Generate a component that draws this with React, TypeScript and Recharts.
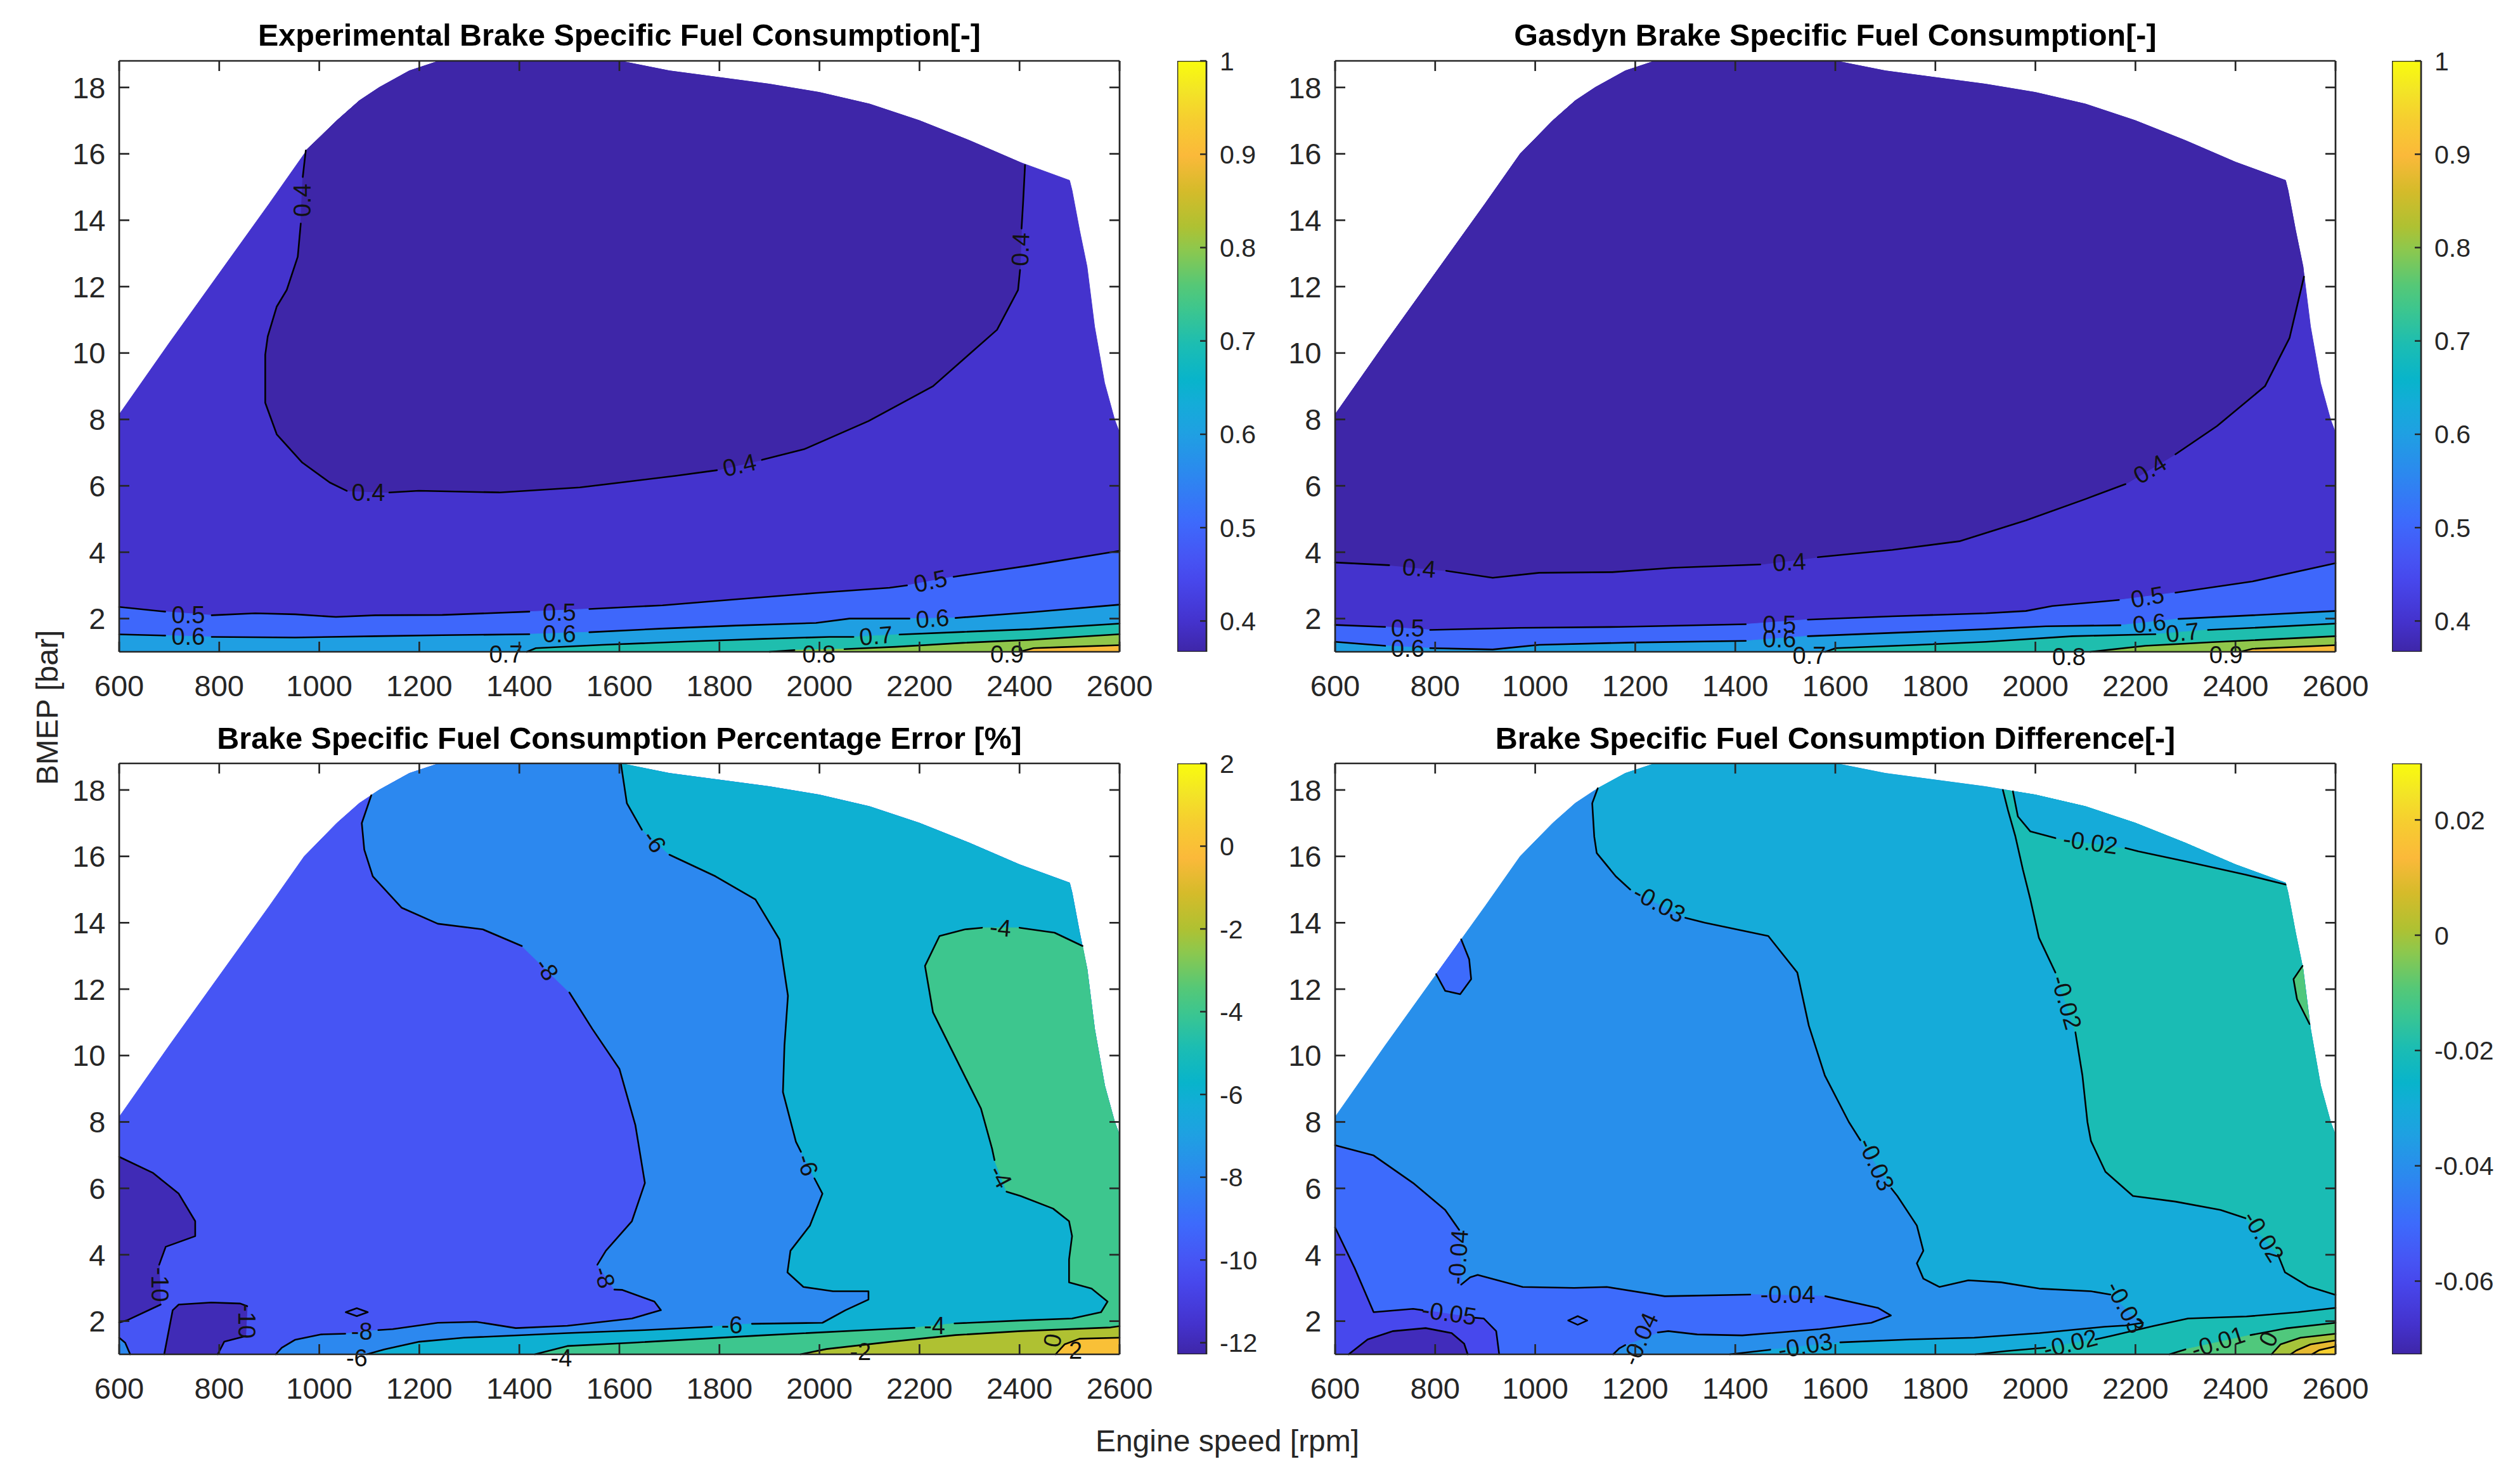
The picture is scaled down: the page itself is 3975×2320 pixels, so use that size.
import React from 'react';
import { ComposedChart, Scatter, XAxis, YAxis, BarChart, Bar } from 'recharts';

type Pt = [number, number] | null;
type XY = [number, number];

const FONT = '"Liberation Sans", Arial, Helvetica, sans-serif';
const INK = '#262626';

// axes
const X_TICKS = [600, 800, 1000, 1200, 1400, 1600, 1800, 2000, 2200, 2400, 2600];
const Y_TICKS = [2, 4, 6, 8, 10, 12, 14, 16, 18];
const X_RANGE: XY = [600, 2600];
const Y_RANGE: XY = [1, 18.8];

// parula colormap (approx.)
const PARULA_STOPS = [0, 0.05, 0.12, 0.16, 0.22, 0.3, 0.37, 0.42, 0.46, 0.52, 0.58, 0.62, 0.68, 0.72, 0.78, 0.84, 0.9, 0.95, 1];
const PARULA_COLORS = ['#3E26A8', '#4432CC', '#4747EC', '#4655F4', '#3D6AFC', '#2C88EF', '#1FA0E2', '#14ACD8', '#08B4CB', '#1CBDB2',
  '#3DC68E', '#55C877', '#8CC84E', '#AFC132', '#D5BB2A', '#FBB93A', '#F6CD30', '#F3E526', '#F9FB0E'];

// colorbars
const BSFC_RANGE: XY = [0.367, 1];
const BSFC_TICKS = [0.4, 0.5, 0.6, 0.7, 0.8, 0.9, 1];
const ERR_RANGE: XY = [-12.28, 2];
const ERR_TICKS = [-12, -10, -8, -6, -4, -2, 0, 2];
const DIFF_RANGE: XY = [-0.0727, 0.0298];
const DIFF_TICKS = [-0.06, -0.04, -0.02, 0, 0.02];

// outline of the measured operating area (upper edge)
const ENVELOPE: Pt[] = [[600, 8.15], [700, 10.3], [800, 12.4], [850, 13.45], [900, 14.5], [970, 16.0], [1035, 17.0], [1080, 17.6],
  [1120, 18.0], [1180, 18.5], [1240, 18.8], [1600, 18.8], [1700, 18.5], [1800, 18.3], [1900, 18.1], [2000, 17.85], [2100, 17.5],
  [2200, 17.0], [2300, 16.4], [2400, 15.75], [2500, 15.2], [2505, 14.9], [2510, 14.5], [2520, 13.7], [2535, 12.6], [2550, 10.8],
  [2570, 9.1], [2590, 8.0], [2600, 7.6]];

// ---- Experimental BSFC contours ----
const EXP_04: Pt[] = [[973, 16.1], [967, 15.3], null, [963, 13.9], [957, 12.9], [935, 11.9], [915, 11.4], [897, 10.5], [892, 9.95], [892, 8.5],
  [915, 7.55], [966, 6.7], [1021, 6.1], [1055, 5.85], null, [1140, 5.8], [1199, 5.85], [1360, 5.8], [1521, 5.95], [1712, 6.3], [1795, 6.47], null,
  [1885, 6.78], [1969, 7.1], [2098, 7.95], [2227, 9.0], [2355, 10.7], [2397, 11.9], [2401, 12.5], null, [2404, 13.75], [2407, 14.5], [2411, 15.66]];
const EXP_05: Pt[] = [[600, 2.35], [692, 2.21], null, [785, 2.1], [872, 2.16], [952, 2.13], [1033, 2.05], [1112, 2.1], [1246, 2.11], [1420, 2.21], null,
  [1540, 2.29], [1686, 2.4], [1833, 2.58], [1993, 2.77], [2140, 2.93], [2175, 3.0], null, [2268, 3.26], [2421, 3.6], [2600, 4.04]];
const EXP_06: Pt[] = [[600, 1.525], [692, 1.49], null, [785, 1.45], [952, 1.43], [1112, 1.47], [1246, 1.5], [1420, 1.53], null, [1540, 1.59],
  [1686, 1.7], [1833, 1.79], [1993, 1.87], [2060, 2.0], [2180, 2.0], null, [2272, 2.02], [2421, 2.19], [2600, 2.42]];
const EXP_07: Pt[] = [[1415, 1.0], [1433, 1.11], [1566, 1.21], [1753, 1.32], [1886, 1.39], [2020, 1.45], [2068, 1.45], null, [2160, 1.52],
  [2287, 1.6], [2421, 1.68], [2600, 1.85]];
const EXP_08: Pt[] = [[1900, 1.0], [1950, 1.05], null, [2050, 1.08], [2153, 1.15], [2287, 1.27], [2421, 1.36], [2600, 1.53]];
const EXP_09: Pt[] = [[2400, 1.0], [2428, 1.11], [2485, 1.14], [2600, 1.2]];
const EXP_LABELS = [
  { x: 966, y: 14.6, t: '0.4', a: -90 }, { x: 1098, y: 5.8, t: '0.4', a: 0 }, { x: 1840, y: 6.62, t: '0.4', a: -13 },
  { x: 2402, y: 13.12, t: '0.4', a: -88 }, { x: 738, y: 2.1, t: '0.5', a: 0 }, { x: 1480, y: 2.18, t: '0.5', a: 0 },
  { x: 2222, y: 3.13, t: '0.5', a: -12 }, { x: 738, y: 1.46, t: '0.6', a: 0 }, { x: 1480, y: 1.54, t: '0.6', a: 0 },
  { x: 2226, y: 2.0, t: '0.6', a: -4 }, { x: 1373, y: 1.0, t: '0.7', a: 0, dy: 4 }, { x: 2113, y: 1.48, t: '0.7', a: -5 },
  { x: 1999, y: 1.0, t: '0.8', a: 0, dy: 4 }, { x: 2375, y: 1.0, t: '0.9', a: 0, dy: 4 },
];

// ---- Gasdyn BSFC contours ----
const GAS_04: Pt[] = [[600, 3.69], [708, 3.61], null, [822, 3.44], [915, 3.23], [1008, 3.38], [1154, 3.4], [1275, 3.53], [1450, 3.63], null,
  [1565, 3.85], [1714, 4.07], [1848, 4.33], [1981, 4.96], [2100, 5.6], [2180, 6.05], null, [2280, 6.95], [2363, 7.8], [2459, 9.0],
  [2508, 10.45], [2537, 12.3]];
const GAS_05: Pt[] = [[600, 1.81], [700, 1.75], null, [790, 1.66], [968, 1.72], [1167, 1.75], [1421, 1.83], null, [1545, 1.97], [1714, 2.07],
  [1901, 2.16], [1981, 2.23], [2034, 2.38], [2167, 2.56], null, [2280, 2.78], [2434, 3.12], [2600, 3.67]];
const GAS_06: Pt[] = [[600, 1.3], [700, 1.18], null, [790, 1.11], [915, 1.07], [1008, 1.21], [1194, 1.28], [1421, 1.33], null, [1545, 1.47],
  [1714, 1.57], [1901, 1.68], [2021, 1.77], [2170, 1.8], null, [2286, 1.99], [2434, 2.1], [2600, 2.23]];
const GAS_07: Pt[] = [[1580, 1.0], [1601, 1.11], [1767, 1.21], [1901, 1.3], [2074, 1.47], [2240, 1.53], null, [2345, 1.66], [2434, 1.72], [2600, 1.85]];
const GAS_08: Pt[] = [[2110, 1.0], [2141, 1.05], [2220, 1.18], [2354, 1.29], [2600, 1.47]];
const GAS_09: Pt[] = [[2410, 1.0], [2434, 1.09], [2600, 1.2]];
const GAS_LABELS = [
  { x: 768, y: 3.52, t: '0.4', a: 5 }, { x: 1508, y: 3.7, t: '0.4', a: -3 }, { x: 2229, y: 6.5, t: '0.4', a: -31 },
  { x: 745, y: 1.7, t: '0.5', a: 0 }, { x: 1488, y: 1.82, t: '0.5', a: 0 }, { x: 2224, y: 2.65, t: '0.5', a: -10 },
  { x: 745, y: 1.1, t: '0.6', a: 0 }, { x: 1488, y: 1.38, t: '0.6', a: 0 }, { x: 2228, y: 1.86, t: '0.6', a: -6 },
  { x: 1548, y: 1.0, t: '0.7', a: 0, dy: 6 }, { x: 2294, y: 1.58, t: '0.7', a: -6 },
  { x: 2067, y: 1.0, t: '0.8', a: 0, dy: 8 }, { x: 2381, y: 1.0, t: '0.9', a: 0, dy: 5 },
];

// ---- Percentage error contours ----
const ERR_M8: Pt[] = [[1104, 17.84], [1085, 17.0], [1090, 16.2], [1107, 15.4], [1165, 14.45], [1237, 13.97], [1327, 13.8], [1405, 13.3], null,
  [1500, 11.9], [1546, 10.8], [1600, 9.6], [1632, 7.9], [1651, 6.16], [1625, 5.01], [1573, 4.12], [1556, 3.7], null, [1590, 2.95],
  [1606, 2.94], [1670, 2.59], [1683, 2.33], [1625, 2.08], [1496, 1.86], [1393, 1.79], [1314, 1.98], [1237, 1.95], [1147, 1.76],
  [1118, 1.73], null, [1052, 1.62], [1004, 1.6], [952, 1.44], [925, 1.2], [913, 1.0]];
const ERR_M6: Pt[] = [[1603, 18.8], [1615, 17.6], [1645, 16.8], null, [1700, 16.05], [1792, 15.4], [1872, 14.7], [1920, 13.5], [1937, 11.8],
  [1930, 10.3], [1927, 8.9], [1953, 7.4], [1963, 7.1], null, [1990, 6.3], [2006, 5.84], [1981, 4.88], [1942, 4.12], [1936, 3.47],
  [1968, 3.03], [2027, 2.9], [2098, 2.9], [2098, 2.65], [2052, 2.33], [2006, 1.95], [1865, 1.92], null, [1785, 1.83], [1651, 1.73],
  [1496, 1.64], [1289, 1.5], [1200, 1.38], [1130, 1.15], [1095, 1.0]];
const ERR_M4: Pt[] = [[2526, 13.3], [2470, 13.7], [2400, 13.85], null, [2325, 13.85], [2291, 13.8], [2240, 13.6], [2211, 12.7], [2227, 11.3],
  [2275, 9.85], [2323, 8.4], [2345, 7.2], [2350, 6.85], null, [2374, 5.9], [2402, 5.77], [2467, 5.39], [2499, 5.01], [2505, 4.56],
  [2499, 3.86], [2499, 3.17], [2544, 2.98], [2576, 2.59], [2563, 2.27], [2505, 2.08], [2402, 2.02], [2270, 1.93], null, [2190, 1.8],
  [2143, 1.77], [1884, 1.57], [1625, 1.35], [1496, 1.25], [1431, 1.0]];
const ERR_M2: Pt[] = [[1962, 1.0], [2014, 1.16], [2143, 1.38], [2272, 1.58], [2402, 1.7], [2582, 1.81], [2600, 1.85]];
const ERR_Z0: Pt[] = [[2472, 1.0], [2490, 1.3], [2520, 1.47], [2600, 1.5]];
const ERR_LOW_A: Pt[] = [[600, 6.95], [667, 6.47], [719, 5.84], [752, 5.01], [752, 4.56], [693, 4.24], [680, 3.7], null, [683, 2.5],
  [615, 2.02], [600, 1.96]];
const ERR_LOW_B: Pt[] = [[690, 1.0], [707, 2.33], [719, 2.5], [784, 2.56], [842, 2.53], [856, 2.45], null, [853, 1.55], [810, 1.38], [797, 1.0]];
const ERR_CORNER: Pt[] = [[600, 1.5], [612, 1.35], [622, 1.0]];
const ERR_OVAL: Pt[] = [[1053, 2.27], [1075, 2.39], [1097, 2.27], [1075, 2.15], [1053, 2.27]];
const ERR_LABELS = [
  { x: 1670, y: 16.45, t: '-6', a: 55 }, { x: 1455, y: 12.6, t: '-8', a: 55 }, { x: 1976, y: 6.7, t: '-6', a: 72 },
  { x: 1570, y: 3.32, t: '-8', a: 72 }, { x: 2362, y: 13.85, t: '-4', a: 5 }, { x: 2362, y: 6.35, t: '-4', a: 62 },
  { x: 681, y: 3.1, t: '-10', a: 90 }, { x: 855, y: 2.0, t: '-10', a: 90 }, { x: 1085, y: 1.68, t: '-8', a: 0 },
  { x: 1075, y: 1.0, t: '-6', a: 0, dy: 6 }, { x: 1825, y: 1.88, t: '-6', a: 0 }, { x: 2230, y: 1.86, t: '-4', a: 0 },
  { x: 1484, y: 1.0, t: '-4', a: 0, dy: 6 }, { x: 2082, y: 1.08, t: '-2', a: 0 }, { x: 2466, y: 1.42, t: '0', a: -80 },
  { x: 2512, y: 1.12, t: '2', a: 0 },
];

// ---- BSFC difference contours ----
const DIFF_M4: Pt[] = [[600, 7.3], [677, 6.99], [756, 6.16], [820, 5.35], [848, 4.75], null, [852, 3.1], [870, 3.32], [885, 3.39], [975, 3.03],
  [1078, 3.0], [1143, 3.03], [1259, 2.75], [1430, 2.8], null, [1580, 2.75], [1685, 2.4], [1711, 2.17], [1672, 1.95], [1569, 1.76],
  [1414, 1.57], [1324, 1.6], [1266, 1.7], [1245, 1.66], null, [1180, 1.28], [1168, 1.18], [1156, 1.0]];
const DIFF_M5: Pt[] = [[600, 4.82], [639, 3.6], [677, 2.27], [756, 2.37], [775, 2.33], null, [880, 2.1], [897, 2.08], [922, 1.7], [928, 1.0]];
const DIFF_M6: Pt[] = [[627, 1.0], [665, 1.45], [716, 1.7], [781, 1.79], [833, 1.64], [858, 1.32], [865, 1.0]];
const DIFF_M3: Pt[] = [[1125, 18.05], [1114, 17.6], [1118, 16.6], [1123, 16.1], [1161, 15.4], [1190, 15.0], null, [1300, 14.15], [1339, 14.0],
  [1466, 13.6], [1524, 12.5], [1547, 10.9], [1579, 9.4], [1627, 8.0], [1650, 7.45], null, [1712, 6.0], [1724, 5.77], [1763, 4.88],
  [1776, 4.12], [1763, 3.74], [1776, 3.28], [1808, 3.03], [1866, 3.23], [1931, 3.17], [2008, 2.98], [2111, 2.9], [2150, 2.8], null,
  [2205, 2.05], [2215, 1.95], [2180, 1.87], [2138, 1.83], [2008, 1.64], [1878, 1.5], [1749, 1.45], [1610, 1.36], null, [1470, 1.14],
  [1389, 1.0]];
const DIFF_M2: Pt[] = [[1935, 18.0], [1945, 17.4], [1960, 16.6], [1975, 15.6], [1990, 14.7], [2007, 13.55], [2040, 12.5], null, [2080, 10.7],
  [2094, 9.4], [2104, 8.0], [2111, 7.43], [2140, 6.5], [2195, 5.77], [2280, 5.6], [2370, 5.35], [2420, 5.1], null, [2485, 4.0],
  [2499, 3.47], [2545, 3.05], [2600, 2.79]];
const DIFF_M2_TOP: Pt[] = [[1955, 17.96], [1965, 17.2], [1990, 16.75], [2040, 16.55], null, [2180, 16.25], [2206, 16.15], [2300, 15.85],
  [2420, 15.45], [2500, 15.15]];
const DIFF_M2_LOW: Pt[] = [[1880, 1.0], [1943, 1.1], [2020, 1.2], null, [2120, 1.45], [2150, 1.55], [2235, 1.85], [2305, 2.08],
  [2422, 2.14], [2525, 2.27], [2600, 2.4]];
const DIFF_M1: Pt[] = [[2268, 1.0], [2300, 1.15], null, [2430, 1.58], [2500, 1.78], [2600, 1.95]];
const DIFF_Z0: Pt[] = [[2472, 1.0], [2490, 1.3], [2530, 1.5], [2600, 1.62]];
const DIFF_P1: Pt[] = [[2510, 1.0], [2522, 1.12], [2550, 1.3], [2600, 1.42]];
const DIFF_P2: Pt[] = [[2553, 1.0], [2568, 1.13], [2600, 1.24]];
const DIFF_LOBE: Pt[] = [[802, 12.45], [820, 11.95], [850, 11.85], [872, 12.3], [868, 12.9], [852, 13.5]];
const DIFF_LENS: Pt[] = [[2534, 12.7], [2516, 12.3], [2523, 11.7], [2548, 10.95]];
const DIFF_OVAL: Pt[] = [[1066, 2.02], [1085, 2.15], [1104, 2.02], [1085, 1.89], [1066, 2.02]];
const DIFF_LABELS = [
  { x: 1248, y: 14.58, t: '-0.03', a: 28 }, { x: 2110, y: 16.42, t: '-0.02', a: 8 }, { x: 2062, y: 11.6, t: '-0.02', a: 74 },
  { x: 1682, y: 6.72, t: '-0.03', a: 66 }, { x: 2456, y: 4.55, t: '-0.02', a: 58 }, { x: 2180, y: 2.42, t: '-0.03', a: 62 },
  { x: 1505, y: 2.8, t: '-0.04', a: 0 }, { x: 846, y: 3.93, t: '-0.04', a: -86 }, { x: 828, y: 2.24, t: '-0.05', a: 8 },
  { x: 1210, y: 1.46, t: '-0.04', a: -66 }, { x: 1540, y: 1.26, t: '-0.03', a: -10 }, { x: 2070, y: 1.33, t: '-0.02', a: -14 },
  { x: 2365, y: 1.37, t: '-0.01', a: -18 }, { x: 2466, y: 1.46, t: '0', a: -65 },
];

// ---------- helpers ----------
const solid = (pts: Pt[]): XY[] => pts.filter((p) => p !== null) as XY[];
const envBetween = (a: number, b: number): XY[] => {
  const lo = Math.min(a, b);
  const hi = Math.max(a, b);
  return solid(ENVELOPE).filter(([x]) => x >= lo && x <= hi);
};
const wholeArea = (): XY[] => [[X_RANGE[0], Y_RANGE[0]], ...solid(ENVELOPE), [X_RANGE[1], Y_RANGE[0]]];
const belowLine = (pts: Pt[]): XY[] => [...solid(pts), [X_RANGE[1], Y_RANGE[0]], [X_RANGE[0], Y_RANGE[0]]];
const leftOfLine = (pts: Pt[]): XY[] => [...solid(pts), [X_RANGE[0], Y_RANGE[0]]];
const rightOfLine = (pts: Pt[]): XY[] => {
  const s = solid(pts);
  return [...s, [X_RANGE[1], Y_RANGE[0]], ...envBetween(s[0][0], X_RANGE[1]).reverse()];
};
const underEnvelope = (pts: Pt[]): XY[] => {
  const s = solid(pts);
  return [...s, ...envBetween(s[0][0], s[s.length - 1][0]).reverse()];
};

const hexRgb = (h: string) => [1, 3, 5].map((i) => parseInt(h.slice(i, i + 2), 16));
function parula(t: number) {
  const c = Math.max(0, Math.min(1, t));
  let i = 0;
  while (i < PARULA_STOPS.length - 2 && c > PARULA_STOPS[i + 1]) i++;
  const f = (c - PARULA_STOPS[i]) / (PARULA_STOPS[i + 1] - PARULA_STOPS[i]);
  const a = hexRgb(PARULA_COLORS[i]);
  const b = hexRgb(PARULA_COLORS[i + 1]);
  return `rgb(${a.map((v, k) => Math.round(v + (b[k] - v) * f)).join(',')})`;
}
const levelColor = (lv: number, r: XY) => parula((lv - r[0]) / (r[1] - r[0]));

// ---------- layout ----------
const PLOT_W = 1578;
const PLOT_H = 932;
const ML = 200;
const MT = 40;
const MR = 100;
const MB = 110;
const AX = 20;
const CB_W = 46;
const CB_AXW = 170;
const CB_PAD = 45;

const noShape = () => <g />;

const fillPath = (fill: string) => (props: any) => {
  const pts = props.points || [];
  const d = pts.map((p: any, i: number) => `${i ? 'L' : 'M'}${p.x},${p.y}`).join('') + 'Z';
  return <path d={d} fill={fill} stroke={fill} strokeWidth={1} />;
};

const strokePath = (breaks: boolean[]) => (props: any) => {
  const pts = props.points || [];
  const d = pts.map((p: any, i: number) => `${i === 0 || breaks[i] ? 'M' : 'L'}${p.x},${p.y}`).join('');
  return <path d={d} fill="none" stroke="#000" strokeWidth={2.6} strokeLinejoin="round" strokeLinecap="round" />;
};

const labelShape = (props: any) => {
  const { cx, cy, payload } = props;
  const y = cy + (payload.dy || 0);
  return (
    <text x={cx} y={y} transform={`rotate(${payload.a || 0} ${cx} ${y})`} textAnchor="middle" dominantBaseline="central"
      fontSize={38} fontFamily={FONT} fill="#111">{payload.t}</text>
  );
};

type Region = { pts: XY[]; level: number };

function ContourPanel({ left, top, regions, lines, labels, range }: { left: number; top: number; regions: Region[]; lines: Pt[][]; labels: any[]; range: XY }) {
  const w = PLOT_W + ML + MR;
  const h = PLOT_H + MT + MB;
  const axisLine = { stroke: INK, strokeWidth: 2.7 };
  const tickText = { fontSize: 47, fill: INK, fontFamily: FONT };
  const corners = [{ x: X_RANGE[0], y: Y_RANGE[0] }, { x: X_RANGE[1], y: Y_RANGE[1] }];
  const blank = () => '';
  return (
    <>
      <div style={{ position: 'absolute', left: left - ML, top: top - MT, width: w, height: h }}>
        <ComposedChart width={w} height={h} margin={{ top: MT, right: MR, bottom: MB, left: ML }}>
          <XAxis type="number" dataKey="x" domain={X_RANGE} hide />
          <YAxis type="number" dataKey="y" domain={Y_RANGE} hide />
          {regions.map((r, i) => {
            const fill = levelColor(r.level, range);
            return (
              <Scatter key={`r${i}`} data={r.pts.map(([x, y]) => ({ x, y }))} fill={fill} isAnimationActive={false}
                shape={noShape} line={fillPath(fill)} />
            );
          })}
          {lines.map((ln, i) => {
            const data: { x: number; y: number }[] = [];
            const breaks: boolean[] = [];
            let brk = false;
            ln.forEach((p) => {
              if (p === null) { brk = true; return; }
              data.push({ x: p[0], y: p[1] });
              breaks.push(brk);
              brk = false;
            });
            return (
              <Scatter key={`l${i}`} data={data} fill="#000" isAnimationActive={false} shape={noShape} line={strokePath(breaks)} />
            );
          })}
          <Scatter data={labels} shape={labelShape} isAnimationActive={false} />
        </ComposedChart>
      </div>
      <div style={{ position: 'absolute', left: left - ML, top: top - MT, width: w, height: h }}>
        <ComposedChart width={w} height={h} margin={{ top: MT - AX, right: MR - AX, bottom: MB - AX, left: ML - AX }}>
          <XAxis xAxisId="b" orientation="bottom" type="number" dataKey="x" domain={X_RANGE} allowDataOverflow ticks={X_TICKS}
            interval={0} height={AX} tickSize={-16} tickMargin={53} axisLine={axisLine} tickLine={axisLine} tick={tickText} />
          <XAxis xAxisId="t" orientation="top" type="number" dataKey="x" domain={X_RANGE} allowDataOverflow ticks={X_TICKS}
            interval={0} height={AX} tickSize={-16} tickMargin={0} axisLine={axisLine} tickLine={axisLine} tickFormatter={blank} />
          <YAxis yAxisId="l" orientation="left" type="number" dataKey="y" domain={Y_RANGE} allowDataOverflow ticks={Y_TICKS}
            interval={0} width={AX} tickSize={-16} tickMargin={37.5} axisLine={axisLine} tickLine={axisLine} tick={tickText} />
          <YAxis yAxisId="r" orientation="right" type="number" dataKey="y" domain={Y_RANGE} allowDataOverflow ticks={Y_TICKS}
            interval={0} width={AX} tickSize={-16} tickMargin={0} axisLine={axisLine} tickLine={axisLine} tickFormatter={blank} />
          <Scatter xAxisId="b" yAxisId="l" data={corners} shape={noShape} isAnimationActive={false} />
          <Scatter xAxisId="t" yAxisId="r" data={corners} shape={noShape} isAnimationActive={false} />
        </ComposedChart>
      </div>
    </>
  );
}

function ColorBar({ left, top, range, ticks, id }: { left: number; top: number; range: XY; ticks: number[]; id: string }) {
  const data = [{ name: 'cb', span: range }];
  const h = PLOT_H + 2 * CB_PAD;
  return (
    <div style={{ position: 'absolute', left, top: top - CB_PAD, width: CB_W + CB_AXW, height: h }}>
      <BarChart width={CB_W + CB_AXW} height={h} data={data} margin={{ top: CB_PAD, right: 0, bottom: CB_PAD, left: 0 }}
        barCategoryGap={0}>
        <defs>
          <linearGradient id={id} x1="0" y1="1" x2="0" y2="0">
            {PARULA_STOPS.map((s, i) => <stop key={i} offset={s} stopColor={PARULA_COLORS[i]} />)}
          </linearGradient>
        </defs>
        <XAxis dataKey="name" hide />
        <Bar dataKey="span" fill={`url(#${id})`} stroke={INK} strokeWidth={2.7} isAnimationActive={false} />
        <YAxis orientation="right" type="number" domain={range} allowDataOverflow ticks={ticks} interval={0} width={CB_AXW}
          tickSize={-10} tickMargin={31} axisLine={false} tickLine={{ stroke: INK, strokeWidth: 2.5 }}
          tick={{ fontSize: 41, fill: INK, fontFamily: FONT }} tickFormatter={(v: number) => String(v)} />
      </BarChart>
    </div>
  );
}

const LEFT_A = 188;
const LEFT_B = 2106;
const TOP_A = 96;
const TOP_B = 1204;
const CB_A = 1857;
const CB_B = 3773;

export default function App() {
  const expRegions: Region[] = [
    { pts: wholeArea(), level: 0.4 },
    { pts: underEnvelope(EXP_04), level: BSFC_RANGE[0] },
    { pts: belowLine(EXP_05), level: 0.5 },
    { pts: belowLine(EXP_06), level: 0.6 },
    { pts: belowLine(EXP_07), level: 0.7 },
    { pts: belowLine(EXP_08), level: 0.8 },
    { pts: belowLine(EXP_09), level: 0.9 },
  ];
  const gasRegions: Region[] = [
    { pts: wholeArea(), level: 0.4 },
    { pts: underEnvelope(GAS_04), level: BSFC_RANGE[0] },
    { pts: belowLine(GAS_05), level: 0.5 },
    { pts: belowLine(GAS_06), level: 0.6 },
    { pts: belowLine(GAS_07), level: 0.7 },
    { pts: belowLine(GAS_08), level: 0.8 },
    { pts: belowLine(GAS_09), level: 0.9 },
  ];
  const errRegions: Region[] = [
    { pts: wholeArea(), level: -10 },
    { pts: rightOfLine(ERR_M8), level: -8 },
    { pts: rightOfLine(ERR_M6), level: -6 },
    { pts: rightOfLine(ERR_M4), level: -4 },
    { pts: belowLine(ERR_M2), level: -2 },
    { pts: belowLine(ERR_Z0), level: 0 },
    { pts: solid(ERR_LOW_A), level: -12 },
    { pts: solid(ERR_LOW_B), level: -12 },
    { pts: leftOfLine(ERR_CORNER), level: -8 },
  ];
  const diffRegions: Region[] = [
    { pts: wholeArea(), level: -0.04 },
    { pts: leftOfLine(DIFF_M4), level: -0.05 },
    { pts: leftOfLine(DIFF_M5), level: -0.06 },
    { pts: solid(DIFF_M6), level: -0.07 },
    { pts: rightOfLine(DIFF_M3), level: -0.03 },
    { pts: underEnvelope(DIFF_M2), level: -0.02 },
    { pts: underEnvelope(DIFF_M2_TOP), level: -0.03 },
    { pts: belowLine(DIFF_M2_LOW), level: -0.02 },
    { pts: belowLine(DIFF_M1), level: -0.01 },
    { pts: belowLine(DIFF_Z0), level: 0 },
    { pts: belowLine(DIFF_P1), level: 0.01 },
    { pts: belowLine(DIFF_P2), level: 0.02 },
    { pts: solid(DIFF_LOBE), level: -0.05 },
    { pts: solid(DIFF_LENS), level: -0.01 },
  ];

  const titleStyle = { fontSize: 48.5, fontWeight: 700, fontFamily: FONT, fill: '#000' } as const;

  return (
    <div style={{ position: 'absolute', left: 0, top: 0, width: 3975, height: 2320, background: '#fff', overflow: 'hidden' }}>
      <ContourPanel left={LEFT_A} top={TOP_A} regions={expRegions} range={BSFC_RANGE} labels={EXP_LABELS}
        lines={[EXP_04, EXP_05, EXP_06, EXP_07, EXP_08, EXP_09]} />
      <ContourPanel left={LEFT_B} top={TOP_A} regions={gasRegions} range={BSFC_RANGE} labels={GAS_LABELS}
        lines={[GAS_04, GAS_05, GAS_06, GAS_07, GAS_08, GAS_09]} />
      <ContourPanel left={LEFT_A} top={TOP_B} regions={errRegions} range={ERR_RANGE} labels={ERR_LABELS}
        lines={[ERR_M8, ERR_M6, ERR_M4, ERR_M2, ERR_Z0, ERR_LOW_A, ERR_LOW_B, ERR_CORNER, ERR_OVAL]} />
      <ContourPanel left={LEFT_B} top={TOP_B} regions={diffRegions} range={DIFF_RANGE} labels={DIFF_LABELS}
        lines={[DIFF_M4, DIFF_M5, DIFF_M6, DIFF_M3, DIFF_M2, DIFF_M2_TOP, DIFF_M2_LOW, DIFF_M1, DIFF_Z0, DIFF_P1, DIFF_P2,
          DIFF_LOBE, DIFF_LENS, DIFF_OVAL]} />
      <ColorBar left={CB_A} top={TOP_A} range={BSFC_RANGE} ticks={BSFC_TICKS} id="cbExp" />
      <ColorBar left={CB_B} top={TOP_A} range={BSFC_RANGE} ticks={BSFC_TICKS} id="cbGas" />
      <ColorBar left={CB_A} top={TOP_B} range={ERR_RANGE} ticks={ERR_TICKS} id="cbErr" />
      <ColorBar left={CB_B} top={TOP_B} range={DIFF_RANGE} ticks={DIFF_TICKS} id="cbDiff" />
      <svg width={3975} height={2320} style={{ position: 'absolute', left: 0, top: 0, pointerEvents: 'none' }}>
        <text x={LEFT_A + PLOT_W / 2} y={72} textAnchor="middle" {...titleStyle}>Experimental Brake Specific Fuel Consumption[-]</text>
        <text x={LEFT_B + PLOT_W / 2} y={72} textAnchor="middle" {...titleStyle}>Gasdyn Brake Specific Fuel Consumption[-]</text>
        <text x={LEFT_A + PLOT_W / 2} y={1181} textAnchor="middle" {...titleStyle}>Brake Specific Fuel Consumption Percentage Error [%]</text>
        <text x={LEFT_B + PLOT_W / 2} y={1181} textAnchor="middle" {...titleStyle}>Brake Specific Fuel Consumption Difference[-]</text>
        <text x={1936} y={2289} textAnchor="middle" fontSize={48} fontFamily={FONT} fill={INK}>Engine speed [rpm]</text>
        <text x={91} y={1116} transform="rotate(-90 91 1116)" textAnchor="middle" fontSize={48} fontFamily={FONT} fill={INK}>BMEP [bar]</text>
      </svg>
    </div>
  );
}
